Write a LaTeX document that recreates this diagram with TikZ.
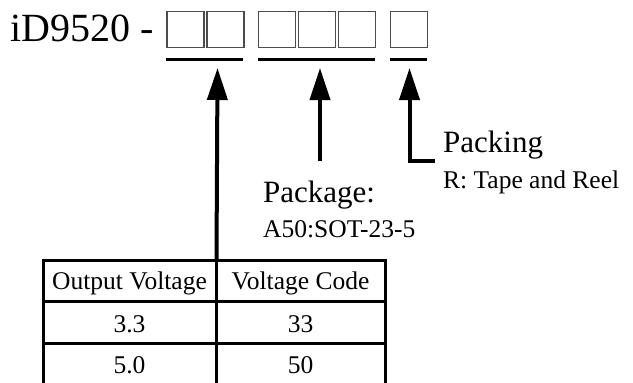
\documentclass[tikz,border=0pt]{standalone}
\usepackage{fontspec}
\setmainfont{Liberation Serif}
\usetikzlibrary{arrows.meta}
\begin{document}
\begin{tikzpicture}[x=1pt,y=-1pt,
  digit/.style={draw=black!70,line width=1.4pt,minimum width=37pt,minimum height=36pt,inner sep=0pt,outer sep=0pt},
  uline/.style={line width=3pt},
  pointer/.style={line width=4pt,line join=miter,-{Triangle[width=20pt,length=32pt]}},
  gridline/.style={line width=3pt},
  txt/.style={inner sep=0pt,anchor=base west},
  bigfont/.style={font=\fontsize{40}{48}\selectfont},
  midfont/.style={font=\fontsize{31}{36}\selectfont},
  smallfont/.style={font=\fontsize{25.5}{30}\selectfont},
  cell/.style={inner sep=0pt,anchor=base,font=\fontsize{25.5}{30}\selectfont}]
\useasboundingbox (0,0) rectangle (633,383);
% title
\node[txt,bigfont] (title) at (10,41) {iD9520 -};
% code boxes
\node[digit] (b1) at (185.5,29.5) {};
\node[digit] (b2) at (225.5,29.5) {};
\node[digit] (b3) at (277,29.5) {};
\node[digit] (b4) at (317,29.5) {};
\node[digit] (b5) at (357,29.5) {};
\node[digit] (b6) at (409,29.5) {};
% underlines
\draw[uline] (166,59) -- (243,59);
\draw[uline] (258,59) -- (375,59);
\draw[uline] (390,59) -- (427,59);
% arrow tips
\coordinate (t1) at (217.5,68);
\coordinate (t2) at (320,68);
\coordinate (t3) at (409.5,68);
\coordinate (s2) at (320,161);
\coordinate (k3) at (409.5,161);
\coordinate (e3) at (435,161);
% labels
\node[txt,midfont] (packing) at (443,152) {Packing};
\node[txt,smallfont] (packingsub) at (443,188) {R: Tape and Reel};
\node[txt,midfont] (package) at (263,202) {Package:};
\node[txt,smallfont] (packagesub) at (263,237) {A50:SOT-23-5};
% table
\coordinate (tl) at (43,260);
\coordinate (tm) at (216.5,260);
\coordinate (tr) at (385,260);
\draw[gridline] (43,390) -- (tl) -- (tr) -- (385,390);
\draw[gridline] (tm) -- (216.5,390);
\draw[gridline] (43,301) -- (385,301);
\draw[gridline] (43,343) -- (385,343);
\node[cell] (h1) at (129.5,289) {Output Voltage};
\node[cell] (h2) at (300.5,289) {Voltage Code};
\node[cell] (r11) at (129.5,332) {3.3};
\node[cell] (r12) at (300.5,332) {33};
\node[cell] (r21) at (129.5,373) {5.0};
\node[cell] (r22) at (300.5,373) {50};
% arrows
\draw[pointer] (tm) -- (t1);
\draw[pointer] (s2) -- (t2);
\draw[pointer] (e3) -- (k3) -- (t3);
\end{tikzpicture}
\end{document}
